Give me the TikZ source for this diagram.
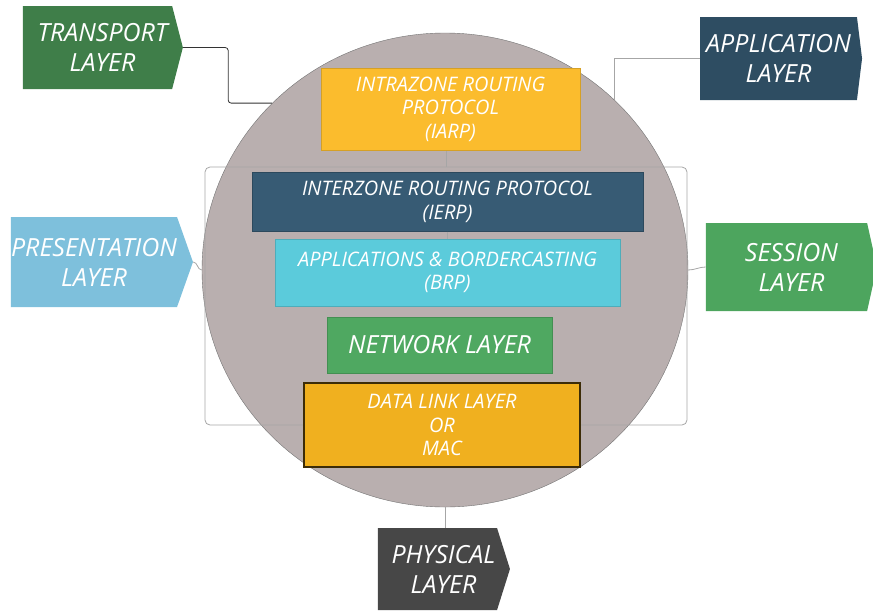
\documentclass[tikz,border=0pt]{standalone}
\usepackage{fontspec}
\setmainfont{Open Sans}
\usepackage{tikz}
\usetikzlibrary{shapes.geometric,shapes.symbols,positioning}
\usepackage{xcolor}
\definecolor{zonegrey}{HTML}{B9AFAF}
\definecolor{iarpcol}{HTML}{FBBC2D}
\definecolor{ierpcol}{HTML}{375B74}
\definecolor{brpcol}{HTML}{5BCBDB}
\definecolor{netcol}{HTML}{4FA861}
\definecolor{maccol}{HTML}{F0B01F}
\definecolor{transcol}{HTML}{3F7E49}
\definecolor{appcol}{HTML}{2E4D62}
\definecolor{prescol}{HTML}{7EC0DC}
\definecolor{sesscol}{HTML}{4DA55E}
\definecolor{physcol}{HTML}{474747}

\begin{document}
\begin{tikzpicture}[x=1pt,y=-1pt,
  layer/.style={signal,signal to=east,inner sep=0pt,align=center,text=white,
    font=\fontsize{25}{30}\selectfont\itshape},
  zonebox/.style={rectangle,draw,inner sep=0pt,align=center,text=white,
    font=\fontsize{20}{23.5}\selectfont\itshape},
  conn/.style={draw=black!80,line width=.8pt},
  lightconn/.style={draw=black!35,line width=.8pt}]
\useasboundingbox (0,0) rectangle (873,611);
\node[ellipse,fill=zonegrey,draw=black!55,minimum width=486pt,minimum height=474pt,inner sep=0pt] (zone) at (445,270) {};
\node[draw=black!35,line width=.8pt,rounded corners=5pt,minimum width=482pt,minimum height=258pt,inner sep=0pt] (stack) at (446,296) {};
\draw[lightconn] (stack.north) -- ++(0,-17);
\node[zonebox,fill=iarpcol,draw=iarpcol!85!black,minimum width=259pt,minimum height=82pt] (iarp) at (450.5,109) {INTRAZONE ROUTING\\PROTOCOL\\(IARP)};
\node[zonebox,fill=ierpcol,draw=ierpcol!80!black,minimum width=391pt,minimum height=59pt] (ierp) at (447.5,202) {INTERZONE ROUTING PROTOCOL\\(IERP)};
\node[zonebox,fill=brpcol,draw=brpcol!85!black,minimum width=345pt,minimum height=67pt] (brp) at (447.5,272.5) {APPLICATIONS \& BORDERCASTING\\(BRP)};
\draw[lightconn] (ierp.south) -- (brp.north);
\node[zonebox,fill=netcol,draw=netcol!85!black,minimum width=225pt,minimum height=56pt,font=\fontsize{25}{29}\selectfont\itshape] (net) at (439.5,345) {NETWORK LAYER};
\node[zonebox,fill=maccol,draw=black!75!maccol,line width=1.2pt,minimum width=276pt,minimum height=84pt] (mac) at (442,425) {DATA LINK LAYER\\OR\\MAC};
\node[layer,fill=transcol,minimum width=160pt,minimum height=83pt,signal pointer angle=151] (transport) at (97.5,47.5) {\hspace*{10pt}TRANSPORT\\\hspace*{10pt}LAYER};
\node[layer,fill=appcol,minimum width=162pt,minimum height=83pt,signal pointer angle=166] (app) at (778.5,58.5) {APPLICATION\\LAYER};
\node[layer,fill=prescol,minimum width=182pt,minimum height=90pt,signal pointer angle=141] (pres) at (94,262) {PRESENTATION\\LAYER};
\node[layer,fill=sesscol,minimum width=171pt,minimum height=88pt,signal pointer angle=155] (session) at (786.5,267) {\hspace*{10pt}SESSION\\\hspace*{10pt}LAYER};
\node[layer,fill=physcol,minimum width=132pt,minimum height=82pt,signal pointer angle=145] (phys) at (437.5,569) {\hspace*{12pt}PHYSICAL\\\hspace*{12pt}LAYER};
\draw[conn,rounded corners=3pt] (transport.east) -| ([xshift=-44pt]zone.136) -- (zone.136);
\draw[lightconn] (app.west) -| (zone.45);
\draw[lightconn] (pres.east) to[out=0,in=180] (zone.west);
\draw[lightconn] (session.west) to[out=180,in=0] (zone.east);
\draw[lightconn] (zone.south) -- (zone.south |- phys.north);
\end{tikzpicture}
\end{document}
